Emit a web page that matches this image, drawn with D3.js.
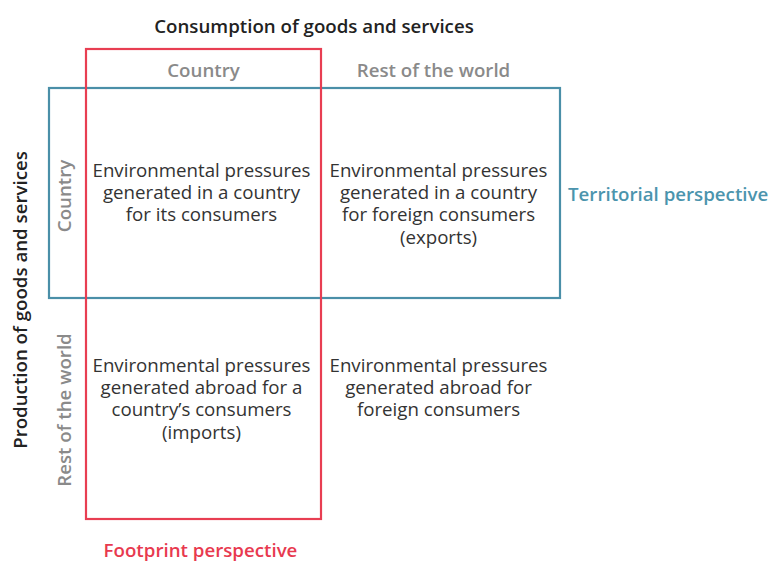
<!DOCTYPE html>
<html>
<head>
<meta charset="utf-8">
<script src="https://cdn.jsdelivr.net/npm/d3@7"></script>
<style>
  body { margin: 0; background: #fff; }
  text { font-family: "Open Sans", sans-serif; }
</style>
</head>
<body>
<div id="chart"></div>
<script>
// categories
const consumption = ["Country", "Rest of the world"];
const production = ["Country", "Rest of the world"];

// cell texts, row by row (production) then column (consumption)
const cells = [
    {prod: "Country", cons: "Country", lines: ["Environmental pressures", "generated in a country", "for its consumers"]},
    {prod: "Country", cons: "Rest of the world", lines: ["Environmental pressures", "generated in a country", "for foreign consumers", "(exports)"]},
    {prod: "Rest of the world", cons: "Country", lines: ["Environmental pressures", "generated abroad for a", "country\u2019s consumers", "(imports)"]},
    {prod: "Rest of the world", cons: "Rest of the world", lines: ["Environmental pressures", "generated abroad for", "foreign consumers"]}
];

const titleX = "Consumption of goods and services";
const titleY = "Production of goods and services";
const territorialLabel = "Territorial perspective";
const footprintLabel = "Footprint perspective";

const width = 769, height = 561;
const red = "#e83e52", blue = "#4a8fa8", grey = "#8a8a8a", dark = "#333333";
const fs = "18.7px";

const svg = d3.select("#chart").append("svg")
    .attr("width", width)
    .attr("height", height);

// column and row edges
const xEdge = d3.scaleLinear().domain([0, 1, 2]).range([86, 321, 560]);
const yEdge = d3.scaleLinear().domain([0, 1, 2]).range([88, 298, 519]);
const col = d => consumption.indexOf(d);
const row = d => production.indexOf(d);
// first text line (centre) per row
const textTop = d3.scaleOrdinal().domain(production).range([169, 364]);
const lineH = 22.4;

// titles
svg.append("text")
    .attr("x", 314).attr("y", 25)
    .attr("text-anchor", "middle").attr("dominant-baseline", "central")
    .style("font-size", fs).style("font-weight", 600).attr("fill", "#222")
    .text(titleX);

svg.append("text")
    .attr("transform", "translate(19," + 300 + ") rotate(-90)")
    .attr("text-anchor", "middle").attr("dominant-baseline", "central")
    .style("font-size", fs).style("font-weight", 600).attr("fill", "#222")
    .text(titleY);

// column headers
svg.selectAll(".colhead")
    .data(consumption)
    .enter().append("text")
    .attr("class", "colhead")
    .attr("x", d => (xEdge(col(d)) + xEdge(col(d) + 1)) / 2 - (col(d) === 0 ? 0 : 7))
    .attr("y", 69)
    .attr("text-anchor", "middle").attr("dominant-baseline", "central")
    .style("font-size", fs).style("font-weight", 600).attr("fill", grey)
    .text(d => d);

// row headers
svg.selectAll(".rowhead")
    .data(production)
    .enter().append("text")
    .attr("class", "rowhead")
    .attr("transform", d => "translate(63," + (row(d) === 0 ? 196 : 410) + ") rotate(-90)")
    .attr("text-anchor", "middle").attr("dominant-baseline", "central")
    .style("font-size", fs).style("font-weight", 600).attr("fill", grey)
    .text(d => d);

// cell texts
const cellG = svg.selectAll(".cell")
    .data(cells)
    .enter().append("g")
    .attr("class", "cell");

cellG.each(function(d) {
    const cx = (xEdge(col(d.cons)) + xEdge(col(d.cons) + 1)) / 2;
    d3.select(this).selectAll("text")
        .data(d.lines)
        .enter().append("text")
        .attr("x", cx - 2)
        .attr("y", (l, i) => textTop(d.prod) + i * lineH)
        .attr("text-anchor", "middle").attr("dominant-baseline", "central")
        .style("font-size", fs).attr("fill", dark)
        .text(l => l);
});

// territorial box (blue): whole first production row
svg.append("rect")
    .attr("x", 49).attr("y", yEdge(0))
    .attr("width", xEdge(2) - 49).attr("height", yEdge(1) - yEdge(0))
    .attr("fill", "none").attr("stroke", blue).attr("stroke-width", 2.2);

// footprint box (red): whole first consumption column
svg.append("rect")
    .attr("x", xEdge(0)).attr("y", 49)
    .attr("width", xEdge(1) - xEdge(0)).attr("height", yEdge(2) - 49)
    .attr("fill", "none").attr("stroke", red).attr("stroke-width", 2.2);

svg.append("text")
    .attr("x", 568).attr("y", 193)
    .attr("dominant-baseline", "central")
    .style("font-size", fs).style("font-weight", 600).attr("fill", "#4b94ad")
    .text(territorialLabel);

svg.append("text")
    .attr("x", (xEdge(0) + xEdge(1)) / 2 - 3).attr("y", 549)
    .attr("text-anchor", "middle").attr("dominant-baseline", "central")
    .style("font-size", fs).style("font-weight", 600).attr("fill", "#e8394f")
    .text(footprintLabel);
</script>
</body>
</html>
